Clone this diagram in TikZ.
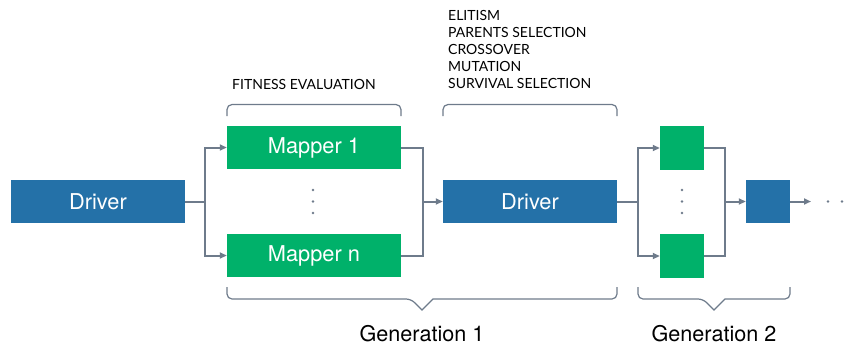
\documentclass[tikz,border=0pt]{standalone}
\usepackage{fontspec}
\setmainfont{TeX Gyre Heros}
\newfontfamily\capsfont{Lato}
\usetikzlibrary{arrows.meta}
\definecolor{drvblue}{HTML}{2471A8}
\definecolor{mapgreen}{HTML}{00B16A}
\definecolor{linegray}{HTML}{6E7B8B}
\begin{document}
\begin{tikzpicture}[x=1pt,y=-1pt,
  box/.style={minimum height=43pt,inner sep=0pt,text=white,font=\fontsize{21.8}{26}\selectfont},
  drv/.style={box,fill=drvblue,minimum width=174pt},
  mapb/.style={box,fill=mapgreen,minimum width=174pt},
  sdrv/.style={box,fill=drvblue,minimum width=44pt},
  smap/.style={box,fill=mapgreen,minimum width=44pt,minimum height=44pt},
  conn/.style={draw=linegray,line width=2pt},
  arr/.style={conn,-{Triangle[length=7pt,width=6pt]}},
  brace/.style={draw=linegray,line width=1.2pt,rounded corners=5pt},
  dotn/.style={circle,fill=linegray,inner sep=0pt,minimum size=2.8pt},
  caps/.style={font=\capsfont\fontsize{14}{17}\selectfont,inner sep=0pt},
  gen/.style={font=\fontsize{21.6}{25}\selectfont,inner sep=0pt}]
\useasboundingbox (0,0) rectangle (844,349);
% nodes
\node[drv] (d1) at (98,201.5) {Driver};
\node[mapb] (m1) at (314,147.5) {Mapper 1};
\node[mapb] (mn) at (314,255.5) {Mapper n};
\node[drv] (d2) at (530,201.5) {Driver};
\node[smap] (g1) at (682,148) {};
\node[smap] (gn) at (682,256) {};
\node[sdrv] (d3) at (768,201.5) {};
% dots
\node[dotn] (a1) at (313,190) {};
\node[dotn] (a2) at (313,201.5) {};
\node[dotn] (a3) at (313,213) {};
\node[dotn] (b1) at (682,190) {};
\node[dotn] (b2) at (682,201.5) {};
\node[dotn] (b3) at (682,213) {};
\node[dotn] (c1) at (828,201.5) {};
\node[dotn] (c2) at (842,201.5) {};
% coordinates
\coordinate (s1) at (205,201.5);
\coordinate (j1) at (423,201.5);
\coordinate (s2) at (638,201.5);
\coordinate (j2) at (725,201.5);
\coordinate (e3) at (811,201.5);
% connectors
\draw[conn] (d1.east) -- (s1);
\draw[arr] (s1) |- (m1.west);
\draw[arr] (s1) |- (mn.west);
\draw[conn] (m1.east) -| (j1);
\draw[conn] (mn.east) -| (j1);
\draw[arr] (j1) -- (d2.west);
\draw[conn] (d2.east) -- (s2);
\draw[arr] (s2) |- (g1.west);
\draw[arr] (s2) |- (gn.west);
\draw[conn] (g1.east) -| (j2);
\draw[conn] (gn.east) -| (j2);
\draw[arr] (j2) -- (d3.west);
\draw[arr] (d3.east) -- (e3);
% top braces
\draw[brace] (227,116) -- (227,104.5) -- (401,104.5) -- (401,116);
\draw[brace] (443,116) -- (443,104.5) -- (617,104.5) -- (617,116);
% bottom braces
\draw[brace] (227,287) -- (227,299) -- (411,299) [sharp corners] -- (422,310) -- (433,299) [rounded corners=5pt] -- (617,299) -- (617,287);
\draw[brace] (638,287) -- (638,299) -- (703,299) [sharp corners] -- (714,310) -- (725,299) [rounded corners=5pt] -- (790,299) -- (790,287);
% labels
\node[caps,anchor=west] (fit) at (232,84) {FITNESS EVALUATION};
\node[caps,anchor=north west,align=left] (ops) at (448,10) {ELITISM\\PARENTS SELECTION\\CROSSOVER\\MUTATION\\SURVIVAL SELECTION};
\node[gen] (gen1) at (422,334) {Generation 1};
\node[gen] (gen2) at (714,334) {Generation 2};
\end{tikzpicture}
\end{document}
